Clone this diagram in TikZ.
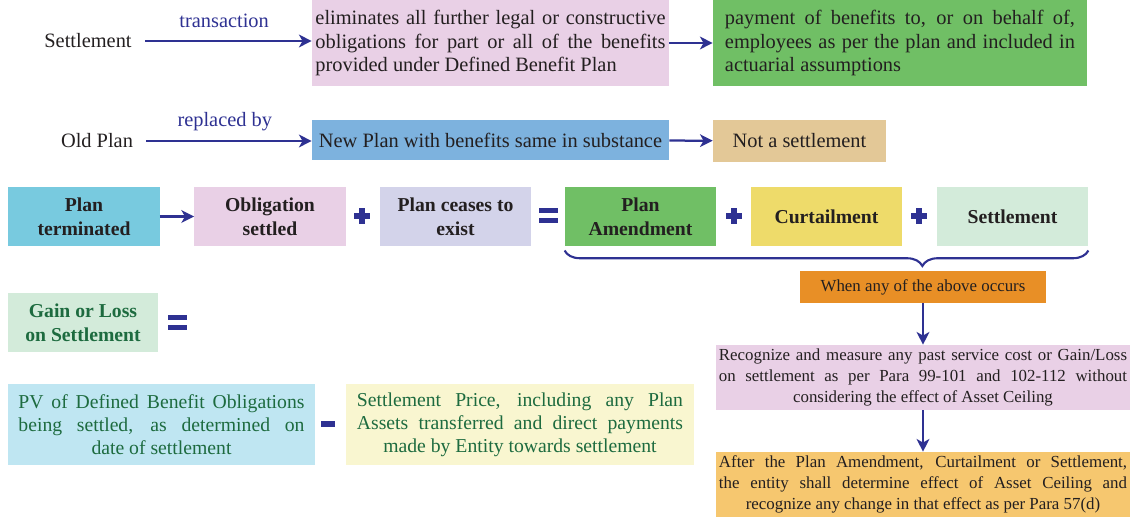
\documentclass[tikz,border=0pt]{standalone}
\usepackage{fontspec}
\setmainfont{Liberation Serif}
\usetikzlibrary{arrows.meta, positioning, decorations.pathreplacing}
\definecolor{sNavy}{HTML}{2E3192}
\definecolor{sInk}{HTML}{231F20}
\definecolor{sGreenInk}{HTML}{1D6B3F}
\definecolor{sPink}{HTML}{E9D0E6}
\definecolor{sGreen}{HTML}{70BF65}
\definecolor{sBlue}{HTML}{7DB2DE}
\definecolor{sTan}{HTML}{E3C897}
\definecolor{sCyan}{HTML}{78CADF}
\definecolor{sLav}{HTML}{D3D3EA}
\definecolor{sYellow}{HTML}{EEDB6A}
\definecolor{sMint}{HTML}{D3EBDA}
\definecolor{sOrange}{HTML}{E88F26}
\definecolor{sGold}{HTML}{F6C76F}
\definecolor{sSky}{HTML}{BFE6F2}
\definecolor{sCream}{HTML}{F9F6D0}
% close a justified paragraph on a full line, then set #1 centred
\newcommand{\centredlast}[1]{{\parfillskip=0pt\par}\hspace*{\fill}#1\hspace*{\fill}{\parfillskip=0pt\par}}

\begin{document}
\begin{tikzpicture}[
  x=0.025cm, y=-0.025cm,
  every node/.style={font=\fontsize{14.5}{16.7}\selectfont, text=sInk},
  card/.style={inner sep=0pt},
  jbox/.style={card, align=justify},
  key/.style={card, font=\fontsize{14}{17}\selectfont\bfseries, align=center, minimum width=3.78cm, minimum height=1.475cm},
  small/.style={font=\fontsize{12}{14.8}\selectfont},
  mid/.style={font=\fontsize{14}{16.4}\selectfont},
  arr/.style={draw=sNavy, line width=1.6pt, -{Stealth[length=9pt,width=9pt,inset=2.5pt]}},
  lbl/.style={text=sNavy, above=#1},
  lbl/.default=3pt
]
  \useasboundingbox (0,0) rectangle (1134,517);

  % settlement definition
  \node (setl) at (88,41) {Settlement};
  \node[jbox, fill=sPink, minimum width=8.925cm, minimum height=2.15cm, text width=8.75cm] (elim) at (490.5,43)
    {eliminates all further legal or constructive\linebreak obligations for part or all of the benefits\linebreak provided under Defined Benefit Plan};
  \node[jbox, fill=sGreen, minimum width=9.35cm, minimum height=2.15cm, text width=8.75cm] (pay) at (900,43)
    {payment of benefits to, or on behalf of,\linebreak employees as per the plan and included in\linebreak actuarial assumptions};
  \draw[arr, shorten <=6pt] (setl.east) -- (setl.east -| elim.west) node[lbl=5pt, midway] {transaction};
  \draw[arr] (elim) -- (pay);

  % old plan replaced
  \node (old) at (97,141) {Old Plan};
  \node[card, fill=sBlue, minimum width=8.925cm, minimum height=1.0cm] (newp) at (490.5,140) {New Plan with benefits same in substance};
  \node[card, fill=sTan, minimum width=4.325cm, minimum height=1.05cm] (notset) at (799.5,141) {Not a settlement};
  \draw[arr, shorten <=6pt] (old.east) -- (old.east -| newp.west) node[lbl, midway] {replaced by};
  \draw[arr] (newp) -- (notset);

  % plan terminated row
  \node[key, fill=sCyan] (term) at (84,216.5) {Plan\\terminated};
  \node[key, fill=sPink] (oblig) at (270,216.5) {Obligation\\settled};
  \node[key, fill=sLav] (cease) at (455.5,216.5) {Plan ceases to\\exist};
  \node[key, fill=sGreen] (amend) at (640.5,216.5) {Plan\\Amendment};
  \node[key, fill=sYellow] (curt) at (826.5,216.5) {Curtailment};
  \node[key, fill=sMint] (settl) at (1012.5,216.5) {Settlement};
  \draw[arr] (term) -- (oblig);
  \foreach \xx/\yy in {362/216, 734/216, 919/216} {
    \fill[sNavy] (\xx-8,\yy-2.6) rectangle (\xx+8,\yy+2.6);
    \fill[sNavy] (\xx-2.6,\yy-8) rectangle (\xx+2.6,\yy+8);
  }
  \foreach \xx/\yy in {548/216, 177/323} {
    \fill[sNavy] (\xx-9.5,\yy-7.5) rectangle (\xx+9.5,\yy-2.5);
    \fill[sNavy] (\xx-9.5,\yy+2.5) rectangle (\xx+9.5,\yy+7.5);
  }
  \draw[sNavy, line width=1.5pt, decorate, decoration={brace, mirror, amplitude=11pt, aspect=0.683}]
    ([yshift=-3pt]amend.south west) -- ([yshift=-3pt]settl.south east);

  % right column
  \node[card, small, fill=sOrange, minimum width=6.15cm, minimum height=0.8cm] (when) at (923,287) {When any of the above occurs};
  \node[jbox, small, fill=sPink, minimum width=10.35cm, minimum height=1.625cm, text width=10.2cm] (recog) at (923,377.5)
    {Recognize and measure any past service cost or Gain/Loss\linebreak
     on settlement as per Para 99-101 and 102-112 without\centredlast{considering the effect of Asset Ceiling}};
  \node[jbox, small, fill=sGold, minimum width=10.35cm, minimum height=1.625cm, text width=10.2cm] (after) at (923,484.5)
    {After the Plan Amendment, Curtailment or Settlement,\linebreak
     the entity shall determine effect of Asset Ceiling and\centredlast{recognize any change in that effect as per Para 57(d)}};
  \draw[arr] (when) -- (recog);
  \draw[arr] (recog) -- (after);

  % gain or loss
  \node[key, fill=sMint, text=sGreenInk, minimum width=3.75cm] (gain) at (83,322.5) {Gain or Loss\\on Settlement};
  \node[jbox, mid, fill=sSky, text=sGreenInk, minimum width=7.675cm, minimum height=2.025cm, text width=7.15cm] (pv) at (161.5,424.5)
    {PV of Defined Benefit Obligations\linebreak
     being settled, as determined on\centredlast{date of settlement}};
  \node[jbox, mid, fill=sCream, text=sGreenInk, minimum width=8.7cm, minimum height=2.025cm, text width=8.15cm] (price) at (520,424.5)
    {Settlement Price, including any Plan\linebreak
     Assets transferred and direct payments\centredlast{made by Entity towards settlement}};
  \fill[sNavy] (321,421) rectangle (335,427);
\end{tikzpicture}
\end{document}
